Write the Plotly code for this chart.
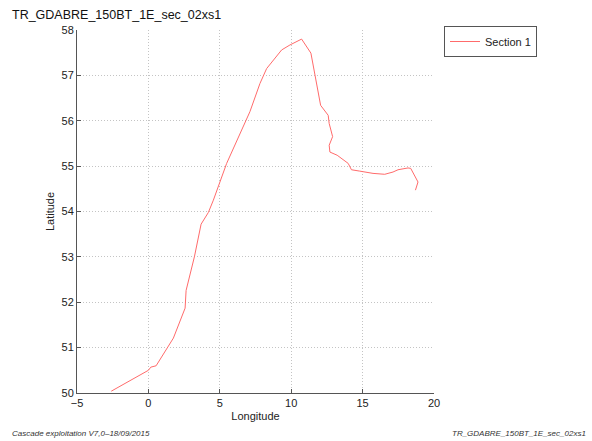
import plotly.graph_objects as go

title_text = "TR_GDABRE_150BT_1E_sec_02xs1"
series_name = "Section 1"
footer_left = "Cascade exploitation V7,0\u201318/09/2015"
footer_right = "TR_GDABRE_150BT_1E_sec_02xs1"

lon = [-2.6, 0.0, 0.17, 0.54, 1.75, 2.57, 2.64, 3.22, 3.69, 4.2, 4.55, 5.48, 7.11,
       7.81, 8.28, 9.33, 9.91, 10.73, 11.38, 11.66, 12.06, 12.59, 12.66, 12.9, 12.66,
       12.71, 13.22, 13.99, 14.22, 14.8, 15.73, 16.55, 17.13, 17.48, 18.18, 18.37,
       18.88, 18.7]
lat = [50.04, 50.5, 50.57, 50.6, 51.21, 51.87, 52.26, 53.0, 53.72, 53.98, 54.25, 55.06, 56.2,
       56.82, 57.15, 57.56, 57.67, 57.8, 57.49, 57.04, 56.34, 56.12, 55.94, 55.65, 55.46,
       55.31, 55.24, 55.06, 54.92, 54.89, 54.84, 54.82, 54.87, 54.92, 54.96, 54.95,
       54.65, 54.47]

x_ticks = [-5, 0, 5, 10, 15, 20]
x_tick_labels = ["\u22125", "0", "5", "10", "15", "20"]
y_ticks = [50, 51, 52, 53, 54, 55, 56, 57, 58]

font_family = "Liberation Sans, Arial, sans-serif"

W, H = 592, 441
L, R, T, B = 77, 158, 30, 48
PW, PH = W - L - R, H - T - B

fig = go.Figure()
fig.add_trace(go.Scatter(x=lon, y=lat, mode="lines", name=series_name,
                         line=dict(color="#ff6b6b", width=1)))

axis_common = dict(showgrid=True, gridcolor="#c4c4c4", griddash="1px,2px", gridwidth=1,
                   showline=True, linecolor="#555555", linewidth=1, mirror=False,
                   ticks="inside", ticklen=4, tickcolor="#555555", zeroline=False,
                   automargin=False,
                   tickfont=dict(family=font_family, size=11, color="#222222"))

fig.update_xaxes(range=[-5, 20], tickvals=x_ticks, ticktext=x_tick_labels,
                 title=dict(text="Longitude", font=dict(family=font_family, size=11, color="#222222"), standoff=4),
                 **axis_common)
fig.update_yaxes(range=[50, 58], tickvals=y_ticks,
                 title=dict(text="Latitude", font=dict(family=font_family, size=11, color="#222222"), standoff=4),
                 **axis_common)

fig.update_layout(
    width=W, height=H,
    margin=dict(l=L, r=R, t=T, b=B, autoexpand=False),
    paper_bgcolor="white", plot_bgcolor="white",
    showlegend=True,
    legend=dict(x=1 + 10/PW, y=1 + 4/PH, xanchor="left", yanchor="top",
                bordercolor="#555555", borderwidth=1, bgcolor="white",
                font=dict(family=font_family, size=11, color="#222222"),
                itemwidth=30, tracegroupgap=0),
    annotations=[
        dict(text=title_text, xref="paper", yref="paper", x=-(L - 10)/PW, y=1 + (T - 15)/PH,
             xanchor="left", yanchor="middle", showarrow=False,
             font=dict(family=font_family, size=12.5, color="#111111")),
        dict(text="<i>" + footer_left + "</i>", xref="paper", yref="paper", x=-(L - 10)/PW, y=-40/PH,
             xanchor="left", yanchor="middle", showarrow=False,
             font=dict(family=font_family, size=8, color="#333333")),
        dict(text="<i>" + footer_right + "</i>", xref="paper", yref="paper", x=1 + (R - 4)/PW, y=-40/PH,
             xanchor="right", yanchor="middle", showarrow=False,
             font=dict(family=font_family, size=8, color="#333333")),
    ],
)

fig.write_html("out.html", config={"displayModeBar": False},
               post_script="document.body.style.margin='0';document.body.style.overflow='hidden';")
